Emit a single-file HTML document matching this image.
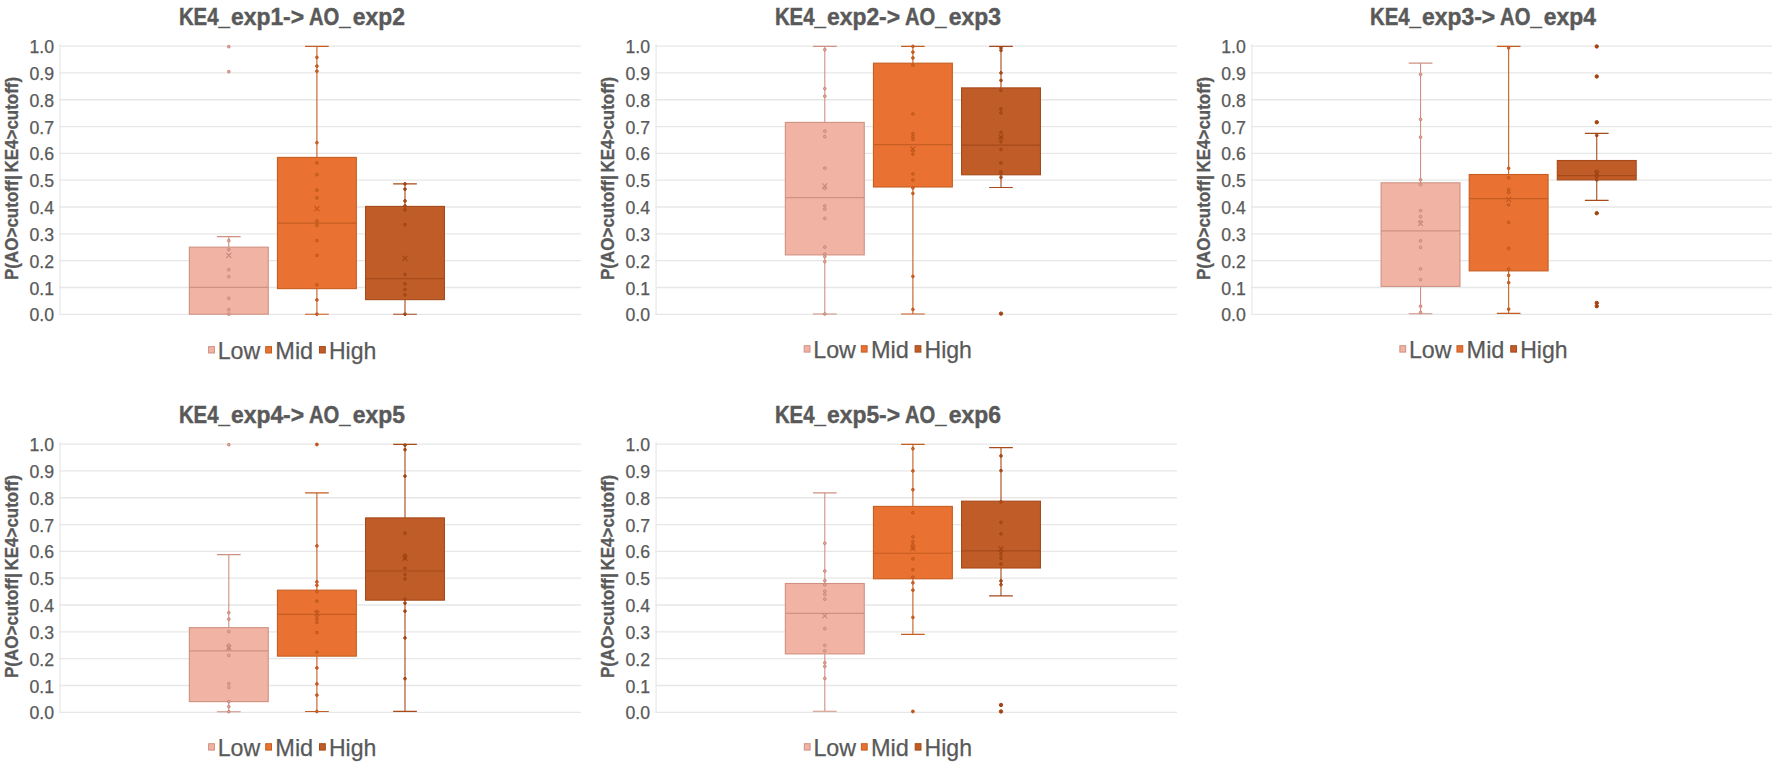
<!DOCTYPE html>
<html lang="en"><head><meta charset="utf-8"><title>KE4 to AO box plots</title>
<style>html,body{margin:0;padding:0;background:#fff}svg{display:block}text{font-family:"Liberation Sans",sans-serif;fill:#595959}.t{font-weight:bold;font-size:24.4px;stroke:#595959;stroke-width:.45px}.y{font-weight:bold;font-size:17.9px;stroke:#595959;stroke-width:.3px}.k{font-size:17.7px;text-anchor:end;stroke:#595959;stroke-width:.25px}.l{font-size:24px;stroke:#595959;stroke-width:.25px}.g{stroke:#E7E7E7;stroke-width:1.3;fill:none}.a{stroke:#EDEDED;stroke-width:1.5;fill:none}</style></head><body>
<svg width="1772" height="763" viewBox="0 0 1772 763">
<rect width="1772" height="763" fill="#fff"/>
<g transform="translate(0,0)">
<path class="a" d="M60.1 44.1V314.9"/>
<path class="g" d="M59.4 314.3H581M59.4 287.48H581M59.4 260.66H581M59.4 233.84H581M59.4 207.02H581M59.4 180.2H581M59.4 153.38H581M59.4 126.56H581M59.4 99.74H581M59.4 72.92H581M59.4 46.1H581"/>
<text class="k" x="54.1" y="321.4">0.0</text>
<text class="k" x="54.1" y="294.58">0.1</text>
<text class="k" x="54.1" y="267.76">0.2</text>
<text class="k" x="54.1" y="240.94">0.3</text>
<text class="k" x="54.1" y="214.12">0.4</text>
<text class="k" x="54.1" y="187.3">0.5</text>
<text class="k" x="54.1" y="160.48">0.6</text>
<text class="k" x="54.1" y="133.66">0.7</text>
<text class="k" x="54.1" y="106.84">0.8</text>
<text class="k" x="54.1" y="80.02">0.9</text>
<text class="k" x="54.1" y="53.2">1.0</text>
<text class="t" y="25.1"><tspan x="178.9" textLength="51" lengthAdjust="spacingAndGlyphs">KE4_</tspan><tspan x="231" textLength="73.1" lengthAdjust="spacingAndGlyphs">exp1-&gt;</tspan> <tspan x="309" textLength="41.6" lengthAdjust="spacingAndGlyphs">AO_</tspan><tspan x="352.8" textLength="52.1" lengthAdjust="spacingAndGlyphs">exp2</tspan></text>
<text class="y" transform="translate(18.4,280) rotate(-90)"><tspan x="0" textLength="99.6" lengthAdjust="spacingAndGlyphs">P(AO&gt;cutoff</tspan><tspan x="99.9">|</tspan><tspan x="107.6" textLength="95.5" lengthAdjust="spacingAndGlyphs">KE4&gt;cutoff)</tspan></text>
<g fill="#F1B4A4" stroke="#CF9182" stroke-width="1.1">
<path d="M228.8 247.15V236.65M216.95 236.65H240.65" fill="none"/>
<rect x="189.35" y="247.15" width="78.9" height="67.05"/>
<path d="M189.35 287.4H268.25" fill="none"/>
<g fill="#E2A797" stroke="#C6887A" stroke-width="1">
<circle cx="228.8" cy="46.65" r="1.35"/>
<circle cx="228.8" cy="71.65" r="1.35"/>
<circle cx="228.8" cy="240.65" r="1.35"/>
<circle cx="228.8" cy="249.65" r="1.35"/>
<circle cx="228.8" cy="269.65" r="1.35"/>
<circle cx="228.8" cy="276.65" r="1.35"/>
<circle cx="228.8" cy="298.4" r="1.35"/>
<circle cx="228.8" cy="309.65" r="1.35"/>
<circle cx="228.8" cy="314.2" r="1.35"/>
<path d="M226.3 252.9l5 5m0 -5l-5 5" fill="none" stroke-width="1.05"/>
</g>
</g>
<g fill="#E97132" stroke="#C55E22" stroke-width="1.1">
<path d="M316.9 157.4V46.4M305.05 46.4H328.75M316.9 288.65V314.2M305.05 314.2H328.75" fill="none"/>
<rect x="277.45" y="157.4" width="78.9" height="131.25"/>
<path d="M277.45 223.15H356.35" fill="none"/>
<g fill="#D2682D" stroke="#C0561C" stroke-width="1">
<circle cx="316.9" cy="57.4" r="1.35"/>
<circle cx="316.9" cy="66.15" r="1.35"/>
<circle cx="316.9" cy="71.15" r="1.35"/>
<circle cx="316.9" cy="142.65" r="1.35"/>
<circle cx="316.9" cy="162.9" r="1.35"/>
<circle cx="316.9" cy="174.65" r="1.35"/>
<circle cx="316.9" cy="190.15" r="1.35"/>
<circle cx="316.9" cy="197.9" r="1.35"/>
<circle cx="316.9" cy="221.15" r="1.35"/>
<circle cx="316.9" cy="225.4" r="1.35"/>
<circle cx="316.9" cy="240.65" r="1.35"/>
<circle cx="316.9" cy="255.4" r="1.35"/>
<circle cx="316.9" cy="284.9" r="1.35"/>
<circle cx="316.9" cy="299.9" r="1.35"/>
<circle cx="316.9" cy="314.2" r="1.35"/>
<path d="M314.4 206.15l5 5m0 -5l-5 5" fill="none" stroke-width="1.05"/>
</g>
</g>
<g fill="#C05C28" stroke="#A64A1A" stroke-width="1.1">
<path d="M405 206.4V183.9M393.15 183.9H416.85M405 299.65V314.2M393.15 314.2H416.85" fill="none"/>
<rect x="365.55" y="206.4" width="78.9" height="93.25"/>
<path d="M365.55 278.65H444.45" fill="none"/>
<g fill="#AE5121" stroke="#A04412" stroke-width="1">
<circle cx="405" cy="183.9" r="1.35"/>
<circle cx="405" cy="189.15" r="1.35"/>
<circle cx="405" cy="200.9" r="1.35"/>
<circle cx="405" cy="205.9" r="1.35"/>
<circle cx="405" cy="209.9" r="1.35"/>
<circle cx="405" cy="224.65" r="1.35"/>
<circle cx="405" cy="274.4" r="1.35"/>
<circle cx="405" cy="283.9" r="1.35"/>
<circle cx="405" cy="289.4" r="1.35"/>
<circle cx="405" cy="294.9" r="1.35"/>
<circle cx="405" cy="314.2" r="1.35"/>
<path d="M402.5 255.9l5 5m0 -5l-5 5" fill="none" stroke-width="1.05"/>
</g>
</g>
<rect x="208.6" y="346.6" width="5.8" height="6.4" fill="#F1B4A4" stroke="#CF9182" stroke-width="1"/>
<text class="l" x="217.7" y="358.8" textLength="42.6" lengthAdjust="spacingAndGlyphs">Low</text>
<rect x="265.7" y="346.6" width="5.8" height="6.4" fill="#E97132" stroke="#C55E22" stroke-width="1"/>
<text class="l" x="275.3" y="358.8" textLength="37.9" lengthAdjust="spacingAndGlyphs">Mid</text>
<rect x="319.5" y="346.6" width="5.8" height="6.4" fill="#C05C28" stroke="#A64A1A" stroke-width="1"/>
<text class="l" x="328.9" y="358.8" textLength="47.4" lengthAdjust="spacingAndGlyphs">High</text>
</g>
<g transform="translate(596,0)">
<path class="a" d="M60.1 44.1V314.9"/>
<path class="g" d="M59.4 314.3H581M59.4 287.48H581M59.4 260.66H581M59.4 233.84H581M59.4 207.02H581M59.4 180.2H581M59.4 153.38H581M59.4 126.56H581M59.4 99.74H581M59.4 72.92H581M59.4 46.1H581"/>
<text class="k" x="54.1" y="321.4">0.0</text>
<text class="k" x="54.1" y="294.58">0.1</text>
<text class="k" x="54.1" y="267.76">0.2</text>
<text class="k" x="54.1" y="240.94">0.3</text>
<text class="k" x="54.1" y="214.12">0.4</text>
<text class="k" x="54.1" y="187.3">0.5</text>
<text class="k" x="54.1" y="160.48">0.6</text>
<text class="k" x="54.1" y="133.66">0.7</text>
<text class="k" x="54.1" y="106.84">0.8</text>
<text class="k" x="54.1" y="80.02">0.9</text>
<text class="k" x="54.1" y="53.2">1.0</text>
<text class="t" y="25.1"><tspan x="178.9" textLength="51" lengthAdjust="spacingAndGlyphs">KE4_</tspan><tspan x="231" textLength="73.1" lengthAdjust="spacingAndGlyphs">exp2-&gt;</tspan> <tspan x="309" textLength="41.6" lengthAdjust="spacingAndGlyphs">AO_</tspan><tspan x="352.8" textLength="52.1" lengthAdjust="spacingAndGlyphs">exp3</tspan></text>
<text class="y" transform="translate(18.4,280) rotate(-90)"><tspan x="0" textLength="99.6" lengthAdjust="spacingAndGlyphs">P(AO&gt;cutoff</tspan><tspan x="99.9">|</tspan><tspan x="107.6" textLength="95.5" lengthAdjust="spacingAndGlyphs">KE4&gt;cutoff)</tspan></text>
<g fill="#F1B4A4" stroke="#CF9182" stroke-width="1.1">
<path d="M228.8 122.4V46.4M216.95 46.4H240.65M228.8 254.9V314M216.95 314H240.65" fill="none"/>
<rect x="189.35" y="122.4" width="78.9" height="132.5"/>
<path d="M189.35 197.65H268.25" fill="none"/>
<g fill="#E2A797" stroke="#C6887A" stroke-width="1">
<circle cx="228.8" cy="49.65" r="1.35"/>
<circle cx="228.8" cy="88.65" r="1.35"/>
<circle cx="228.8" cy="96.15" r="1.35"/>
<circle cx="228.8" cy="131.15" r="1.35"/>
<circle cx="228.8" cy="136.65" r="1.35"/>
<circle cx="228.8" cy="168.15" r="1.35"/>
<circle cx="228.8" cy="188.4" r="1.35"/>
<circle cx="228.8" cy="205.9" r="1.35"/>
<circle cx="228.8" cy="209.15" r="1.35"/>
<circle cx="228.8" cy="218.4" r="1.35"/>
<circle cx="228.8" cy="247.15" r="1.35"/>
<circle cx="228.8" cy="254.15" r="1.35"/>
<circle cx="228.8" cy="256.65" r="1.35"/>
<circle cx="228.8" cy="261.65" r="1.35"/>
<circle cx="228.8" cy="314" r="1.35"/>
<path d="M226.3 183.4l5 5m0 -5l-5 5" fill="none" stroke-width="1.05"/>
</g>
</g>
<g fill="#E97132" stroke="#C55E22" stroke-width="1.1">
<path d="M316.9 63.15V46.4M305.05 46.4H328.75M316.9 187V314M305.05 314H328.75" fill="none"/>
<rect x="277.45" y="63.15" width="78.9" height="123.85"/>
<path d="M277.45 144.65H356.35" fill="none"/>
<g fill="#D2682D" stroke="#C0561C" stroke-width="1">
<circle cx="316.9" cy="46.4" r="1.35"/>
<circle cx="316.9" cy="52.15" r="1.35"/>
<circle cx="316.9" cy="57.9" r="1.35"/>
<circle cx="316.9" cy="65.15" r="1.35"/>
<circle cx="316.9" cy="113.9" r="1.35"/>
<circle cx="316.9" cy="133.65" r="1.35"/>
<circle cx="316.9" cy="136.65" r="1.35"/>
<circle cx="316.9" cy="139.4" r="1.35"/>
<circle cx="316.9" cy="150.4" r="1.35"/>
<circle cx="316.9" cy="154.15" r="1.35"/>
<circle cx="316.9" cy="173.9" r="1.35"/>
<circle cx="316.9" cy="179.9" r="1.35"/>
<circle cx="316.9" cy="187.9" r="1.35"/>
<circle cx="316.9" cy="193.4" r="1.35"/>
<circle cx="316.9" cy="276.4" r="1.35"/>
<circle cx="316.9" cy="309.4" r="1.35"/>
<path d="M314.4 146.4l5 5m0 -5l-5 5" fill="none" stroke-width="1.05"/>
</g>
</g>
<g fill="#C05C28" stroke="#A64A1A" stroke-width="1.1">
<path d="M405 87.9V46.4M393.15 46.4H416.85M405 174.8V187.5M393.15 187.5H416.85" fill="none"/>
<rect x="365.55" y="87.9" width="78.9" height="86.9"/>
<path d="M365.55 145.15H444.45" fill="none"/>
<g fill="#AE5121" stroke="#A04412" stroke-width="1">
<circle cx="405" cy="47.9" r="1.35"/>
<circle cx="405" cy="50.4" r="1.35"/>
<circle cx="405" cy="72.9" r="1.35"/>
<circle cx="405" cy="80.4" r="1.35"/>
<circle cx="405" cy="90.4" r="1.35"/>
<circle cx="405" cy="108.9" r="1.35"/>
<circle cx="405" cy="112.9" r="1.35"/>
<circle cx="405" cy="132.4" r="1.35"/>
<circle cx="405" cy="137.4" r="1.35"/>
<circle cx="405" cy="141.65" r="1.35"/>
<circle cx="405" cy="149.5" r="1.35"/>
<circle cx="405" cy="163" r="1.35"/>
<circle cx="405" cy="171.65" r="1.35"/>
<circle cx="405" cy="173.65" r="1.35"/>
<circle cx="405" cy="177.4" r="1.35"/>
<circle cx="405" cy="313.6" r="1.7" fill="#A04412"/>
<path d="M402.5 134.65l5 5m0 -5l-5 5" fill="none" stroke-width="1.05"/>
</g>
</g>
<rect x="208.2" y="345.7" width="5.8" height="6.4" fill="#F1B4A4" stroke="#CF9182" stroke-width="1"/>
<text class="l" x="217.3" y="357.9" textLength="42.6" lengthAdjust="spacingAndGlyphs">Low</text>
<rect x="265.3" y="345.7" width="5.8" height="6.4" fill="#E97132" stroke="#C55E22" stroke-width="1"/>
<text class="l" x="274.9" y="357.9" textLength="37.9" lengthAdjust="spacingAndGlyphs">Mid</text>
<rect x="319.1" y="345.7" width="5.8" height="6.4" fill="#C05C28" stroke="#A64A1A" stroke-width="1"/>
<text class="l" x="328.5" y="357.9" textLength="47.4" lengthAdjust="spacingAndGlyphs">High</text>
</g>
<g transform="translate(1191.75,0)">
<path class="a" d="M60.1 44.1V314.9"/>
<path class="g" d="M59.4 314.3H581M59.4 287.48H581M59.4 260.66H581M59.4 233.84H581M59.4 207.02H581M59.4 180.2H581M59.4 153.38H581M59.4 126.56H581M59.4 99.74H581M59.4 72.92H581M59.4 46.1H581"/>
<text class="k" x="54.1" y="321.4">0.0</text>
<text class="k" x="54.1" y="294.58">0.1</text>
<text class="k" x="54.1" y="267.76">0.2</text>
<text class="k" x="54.1" y="240.94">0.3</text>
<text class="k" x="54.1" y="214.12">0.4</text>
<text class="k" x="54.1" y="187.3">0.5</text>
<text class="k" x="54.1" y="160.48">0.6</text>
<text class="k" x="54.1" y="133.66">0.7</text>
<text class="k" x="54.1" y="106.84">0.8</text>
<text class="k" x="54.1" y="80.02">0.9</text>
<text class="k" x="54.1" y="53.2">1.0</text>
<text class="t" y="25.1"><tspan x="178.2" textLength="51" lengthAdjust="spacingAndGlyphs">KE4_</tspan><tspan x="230.3" textLength="73.1" lengthAdjust="spacingAndGlyphs">exp3-&gt;</tspan> <tspan x="308.3" textLength="41.6" lengthAdjust="spacingAndGlyphs">AO_</tspan><tspan x="352.1" textLength="52.1" lengthAdjust="spacingAndGlyphs">exp4</tspan></text>
<text class="y" transform="translate(18.4,280) rotate(-90)"><tspan x="0" textLength="99.6" lengthAdjust="spacingAndGlyphs">P(AO&gt;cutoff</tspan><tspan x="99.9">|</tspan><tspan x="107.6" textLength="95.5" lengthAdjust="spacingAndGlyphs">KE4&gt;cutoff)</tspan></text>
<g fill="#F1B4A4" stroke="#CF9182" stroke-width="1.1">
<path d="M228.8 182.8V63.15M216.95 63.15H240.65M228.8 286.4V313.7M216.95 313.7H240.65" fill="none"/>
<rect x="189.35" y="182.8" width="78.9" height="103.6"/>
<path d="M189.35 230.9H268.25" fill="none"/>
<g fill="#E2A797" stroke="#C6887A" stroke-width="1">
<circle cx="228.8" cy="74.4" r="1.35"/>
<circle cx="228.8" cy="119.4" r="1.35"/>
<circle cx="228.8" cy="137.15" r="1.35"/>
<circle cx="228.8" cy="179.8" r="1.35"/>
<circle cx="228.8" cy="184.5" r="1.35"/>
<circle cx="228.8" cy="210.65" r="1.35"/>
<circle cx="228.8" cy="216.65" r="1.35"/>
<circle cx="228.8" cy="221.65" r="1.35"/>
<circle cx="228.8" cy="240.9" r="1.35"/>
<circle cx="228.8" cy="247.4" r="1.35"/>
<circle cx="228.8" cy="268.9" r="1.35"/>
<circle cx="228.8" cy="279.65" r="1.35"/>
<circle cx="228.8" cy="306.15" r="1.35"/>
<circle cx="228.8" cy="312.4" r="1.35"/>
<path d="M226.3 221.15l5 5m0 -5l-5 5" fill="none" stroke-width="1.05"/>
</g>
</g>
<g fill="#E97132" stroke="#C55E22" stroke-width="1.1">
<path d="M316.9 174.5V46.4M305.05 46.4H328.75M316.9 270.9V313.4M305.05 313.4H328.75" fill="none"/>
<rect x="277.45" y="174.5" width="78.9" height="96.4"/>
<path d="M277.45 198.65H356.35" fill="none"/>
<g fill="#D2682D" stroke="#C0561C" stroke-width="1">
<circle cx="316.9" cy="47.9" r="1.35"/>
<circle cx="316.9" cy="168.3" r="1.35"/>
<circle cx="316.9" cy="177.8" r="1.35"/>
<circle cx="316.9" cy="189.8" r="1.35"/>
<circle cx="316.9" cy="192.65" r="1.35"/>
<circle cx="316.9" cy="204.9" r="1.35"/>
<circle cx="316.9" cy="222.4" r="1.35"/>
<circle cx="316.9" cy="248.4" r="1.35"/>
<circle cx="316.9" cy="269.15" r="1.35"/>
<circle cx="316.9" cy="275.4" r="1.35"/>
<circle cx="316.9" cy="282.65" r="1.35"/>
<circle cx="316.9" cy="309.15" r="1.35"/>
<path d="M314.4 196.9l5 5m0 -5l-5 5" fill="none" stroke-width="1.05"/>
</g>
</g>
<g fill="#C05C28" stroke="#A64A1A" stroke-width="1.1">
<path d="M405 160.5V133.4M393.15 133.4H416.85M405 179.9V200.4M393.15 200.4H416.85" fill="none"/>
<rect x="365.55" y="160.5" width="78.9" height="19.4"/>
<path d="M365.55 175.65H444.45" fill="none"/>
<g fill="#AE5121" stroke="#A04412" stroke-width="1">
<circle cx="405" cy="46.45" r="1.7" fill="#A04412"/>
<circle cx="405" cy="76.45" r="1.7" fill="#A04412"/>
<circle cx="405" cy="122.2" r="1.7" fill="#A04412"/>
<circle cx="405" cy="135.4" r="1.35"/>
<circle cx="405" cy="171.4" r="1.35"/>
<circle cx="405" cy="173.9" r="1.35"/>
<circle cx="405" cy="177" r="1.35"/>
<circle cx="405" cy="179.9" r="1.35"/>
<circle cx="405" cy="213.2" r="1.7" fill="#A04412"/>
<circle cx="405" cy="302.95" r="1.7" fill="#A04412"/>
<circle cx="405" cy="306.2" r="1.7" fill="#A04412"/>
<path d="M402.5 171.15l5 5m0 -5l-5 5" fill="none" stroke-width="1.05"/>
</g>
</g>
<rect x="208.1" y="345.7" width="5.8" height="6.4" fill="#F1B4A4" stroke="#CF9182" stroke-width="1"/>
<text class="l" x="217.2" y="357.9" textLength="42.6" lengthAdjust="spacingAndGlyphs">Low</text>
<rect x="265.2" y="345.7" width="5.8" height="6.4" fill="#E97132" stroke="#C55E22" stroke-width="1"/>
<text class="l" x="274.8" y="357.9" textLength="37.9" lengthAdjust="spacingAndGlyphs">Mid</text>
<rect x="319" y="345.7" width="5.8" height="6.4" fill="#C05C28" stroke="#A64A1A" stroke-width="1"/>
<text class="l" x="328.4" y="357.9" textLength="47.4" lengthAdjust="spacingAndGlyphs">High</text>
</g>
<g transform="translate(0,398)">
<path class="a" d="M60.1 44.1V314.9"/>
<path class="g" d="M59.4 314.3H581M59.4 287.48H581M59.4 260.66H581M59.4 233.84H581M59.4 207.02H581M59.4 180.2H581M59.4 153.38H581M59.4 126.56H581M59.4 99.74H581M59.4 72.92H581M59.4 46.1H581"/>
<text class="k" x="54.1" y="321.4">0.0</text>
<text class="k" x="54.1" y="294.58">0.1</text>
<text class="k" x="54.1" y="267.76">0.2</text>
<text class="k" x="54.1" y="240.94">0.3</text>
<text class="k" x="54.1" y="214.12">0.4</text>
<text class="k" x="54.1" y="187.3">0.5</text>
<text class="k" x="54.1" y="160.48">0.6</text>
<text class="k" x="54.1" y="133.66">0.7</text>
<text class="k" x="54.1" y="106.84">0.8</text>
<text class="k" x="54.1" y="80.02">0.9</text>
<text class="k" x="54.1" y="53.2">1.0</text>
<text class="t" y="25.1"><tspan x="178.9" textLength="51" lengthAdjust="spacingAndGlyphs">KE4_</tspan><tspan x="231" textLength="73.1" lengthAdjust="spacingAndGlyphs">exp4-&gt;</tspan> <tspan x="309" textLength="41.6" lengthAdjust="spacingAndGlyphs">AO_</tspan><tspan x="352.8" textLength="52.1" lengthAdjust="spacingAndGlyphs">exp5</tspan></text>
<text class="y" transform="translate(18.4,280) rotate(-90)"><tspan x="0" textLength="99.6" lengthAdjust="spacingAndGlyphs">P(AO&gt;cutoff</tspan><tspan x="99.9">|</tspan><tspan x="107.6" textLength="95.5" lengthAdjust="spacingAndGlyphs">KE4&gt;cutoff)</tspan></text>
<g fill="#F1B4A4" stroke="#CF9182" stroke-width="1.1">
<path d="M228.8 229.65V156.65M216.95 156.65H240.65M228.8 303.65V313.7M216.95 313.7H240.65" fill="none"/>
<rect x="189.35" y="229.65" width="78.9" height="74"/>
<path d="M189.35 252.9H268.25" fill="none"/>
<g fill="#E2A797" stroke="#C6887A" stroke-width="1">
<circle cx="228.8" cy="46.65" r="1.35"/>
<circle cx="228.8" cy="214.65" r="1.35"/>
<circle cx="228.8" cy="221.15" r="1.35"/>
<circle cx="228.8" cy="233.65" r="1.35"/>
<circle cx="228.8" cy="247.15" r="1.35"/>
<circle cx="228.8" cy="250.4" r="1.35"/>
<circle cx="228.8" cy="257.4" r="1.35"/>
<circle cx="228.8" cy="285.65" r="1.35"/>
<circle cx="228.8" cy="289.4" r="1.35"/>
<circle cx="228.8" cy="303.65" r="1.35"/>
<circle cx="228.8" cy="308.65" r="1.35"/>
<circle cx="228.8" cy="313.7" r="1.35"/>
<path d="M226.3 247.4l5 5m0 -5l-5 5" fill="none" stroke-width="1.05"/>
</g>
</g>
<g fill="#E97132" stroke="#C55E22" stroke-width="1.1">
<path d="M316.9 192.15V94.9M305.05 94.9H328.75M316.9 258.15V313.5M305.05 313.5H328.75" fill="none"/>
<rect x="277.45" y="192.15" width="78.9" height="66"/>
<path d="M277.45 216.4H356.35" fill="none"/>
<g fill="#D2682D" stroke="#C0561C" stroke-width="1">
<circle cx="316.9" cy="46.45" r="1.45" fill="#C0561C"/>
<circle cx="316.9" cy="147.9" r="1.35"/>
<circle cx="316.9" cy="183.9" r="1.35"/>
<circle cx="316.9" cy="187.3" r="1.35"/>
<circle cx="316.9" cy="193.65" r="1.35"/>
<circle cx="316.9" cy="203.15" r="1.35"/>
<circle cx="316.9" cy="213.4" r="1.35"/>
<circle cx="316.9" cy="217.4" r="1.35"/>
<circle cx="316.9" cy="220.9" r="1.35"/>
<circle cx="316.9" cy="224.4" r="1.35"/>
<circle cx="316.9" cy="234.65" r="1.35"/>
<circle cx="316.9" cy="254.15" r="1.35"/>
<circle cx="316.9" cy="269.9" r="1.35"/>
<circle cx="316.9" cy="285.9" r="1.35"/>
<circle cx="316.9" cy="297.15" r="1.35"/>
<circle cx="316.9" cy="313.5" r="1.35"/>
<path d="M314.4 212.9l5 5m0 -5l-5 5" fill="none" stroke-width="1.05"/>
</g>
</g>
<g fill="#C05C28" stroke="#A64A1A" stroke-width="1.1">
<path d="M405 119.9V46.4M393.15 46.4H416.85M405 202.15V313.4M393.15 313.4H416.85" fill="none"/>
<rect x="365.55" y="119.9" width="78.9" height="82.25"/>
<path d="M365.55 173H444.45" fill="none"/>
<g fill="#AE5121" stroke="#A04412" stroke-width="1">
<circle cx="405" cy="47.15" r="1.35"/>
<circle cx="405" cy="51.65" r="1.35"/>
<circle cx="405" cy="78.15" r="1.35"/>
<circle cx="405" cy="135.15" r="1.35"/>
<circle cx="405" cy="157.15" r="1.35"/>
<circle cx="405" cy="160.4" r="1.35"/>
<circle cx="405" cy="170.3" r="1.35"/>
<circle cx="405" cy="176.5" r="1.35"/>
<circle cx="405" cy="180.9" r="1.35"/>
<circle cx="405" cy="201.15" r="1.35"/>
<circle cx="405" cy="205.15" r="1.35"/>
<circle cx="405" cy="213.15" r="1.35"/>
<circle cx="405" cy="239.9" r="1.35"/>
<circle cx="405" cy="280.65" r="1.35"/>
<path d="M402.5 157.9l5 5m0 -5l-5 5" fill="none" stroke-width="1.05"/>
</g>
</g>
<rect x="208.6" y="345.7" width="5.8" height="6.4" fill="#F1B4A4" stroke="#CF9182" stroke-width="1"/>
<text class="l" x="217.7" y="357.9" textLength="42.6" lengthAdjust="spacingAndGlyphs">Low</text>
<rect x="265.7" y="345.7" width="5.8" height="6.4" fill="#E97132" stroke="#C55E22" stroke-width="1"/>
<text class="l" x="275.3" y="357.9" textLength="37.9" lengthAdjust="spacingAndGlyphs">Mid</text>
<rect x="319.5" y="345.7" width="5.8" height="6.4" fill="#C05C28" stroke="#A64A1A" stroke-width="1"/>
<text class="l" x="328.9" y="357.9" textLength="47.4" lengthAdjust="spacingAndGlyphs">High</text>
</g>
<g transform="translate(596,398)">
<path class="a" d="M60.1 44.1V314.9"/>
<path class="g" d="M59.4 314.3H581M59.4 287.48H581M59.4 260.66H581M59.4 233.84H581M59.4 207.02H581M59.4 180.2H581M59.4 153.38H581M59.4 126.56H581M59.4 99.74H581M59.4 72.92H581M59.4 46.1H581"/>
<text class="k" x="54.1" y="321.4">0.0</text>
<text class="k" x="54.1" y="294.58">0.1</text>
<text class="k" x="54.1" y="267.76">0.2</text>
<text class="k" x="54.1" y="240.94">0.3</text>
<text class="k" x="54.1" y="214.12">0.4</text>
<text class="k" x="54.1" y="187.3">0.5</text>
<text class="k" x="54.1" y="160.48">0.6</text>
<text class="k" x="54.1" y="133.66">0.7</text>
<text class="k" x="54.1" y="106.84">0.8</text>
<text class="k" x="54.1" y="80.02">0.9</text>
<text class="k" x="54.1" y="53.2">1.0</text>
<text class="t" y="25.1"><tspan x="178.9" textLength="51" lengthAdjust="spacingAndGlyphs">KE4_</tspan><tspan x="231" textLength="73.1" lengthAdjust="spacingAndGlyphs">exp5-&gt;</tspan> <tspan x="309" textLength="41.6" lengthAdjust="spacingAndGlyphs">AO_</tspan><tspan x="352.8" textLength="52.1" lengthAdjust="spacingAndGlyphs">exp6</tspan></text>
<text class="y" transform="translate(18.4,280) rotate(-90)"><tspan x="0" textLength="99.6" lengthAdjust="spacingAndGlyphs">P(AO&gt;cutoff</tspan><tspan x="99.9">|</tspan><tspan x="107.6" textLength="95.5" lengthAdjust="spacingAndGlyphs">KE4&gt;cutoff)</tspan></text>
<g fill="#F1B4A4" stroke="#CF9182" stroke-width="1.1">
<path d="M228.8 185.5V94.9M216.95 94.9H240.65M228.8 255.9V313.3M216.95 313.3H240.65" fill="none"/>
<rect x="189.35" y="185.5" width="78.9" height="70.4"/>
<path d="M189.35 215.4H268.25" fill="none"/>
<g fill="#E2A797" stroke="#C6887A" stroke-width="1">
<circle cx="228.8" cy="145.3" r="1.35"/>
<circle cx="228.8" cy="173" r="1.35"/>
<circle cx="228.8" cy="182.65" r="1.35"/>
<circle cx="228.8" cy="186.9" r="1.35"/>
<circle cx="228.8" cy="193.15" r="1.35"/>
<circle cx="228.8" cy="196.4" r="1.35"/>
<circle cx="228.8" cy="201.15" r="1.35"/>
<circle cx="228.8" cy="230.65" r="1.35"/>
<circle cx="228.8" cy="247.4" r="1.35"/>
<circle cx="228.8" cy="252.9" r="1.35"/>
<circle cx="228.8" cy="264.65" r="1.35"/>
<circle cx="228.8" cy="268.4" r="1.35"/>
<circle cx="228.8" cy="280.4" r="1.35"/>
<path d="M226.3 215.4l5 5m0 -5l-5 5" fill="none" stroke-width="1.05"/>
</g>
</g>
<g fill="#E97132" stroke="#C55E22" stroke-width="1.1">
<path d="M316.9 108.4V46.4M305.05 46.4H328.75M316.9 180.8V236.4M305.05 236.4H328.75" fill="none"/>
<rect x="277.45" y="108.4" width="78.9" height="72.4"/>
<path d="M277.45 155.3H356.35" fill="none"/>
<g fill="#D2682D" stroke="#C0561C" stroke-width="1">
<circle cx="316.9" cy="50.65" r="1.35"/>
<circle cx="316.9" cy="72.9" r="1.35"/>
<circle cx="316.9" cy="91.65" r="1.35"/>
<circle cx="316.9" cy="114.65" r="1.35"/>
<circle cx="316.9" cy="138.9" r="1.35"/>
<circle cx="316.9" cy="143.65" r="1.35"/>
<circle cx="316.9" cy="146.9" r="1.35"/>
<circle cx="316.9" cy="150.4" r="1.35"/>
<circle cx="316.9" cy="160.8" r="1.35"/>
<circle cx="316.9" cy="171.65" r="1.35"/>
<circle cx="316.9" cy="179.15" r="1.35"/>
<circle cx="316.9" cy="184.8" r="1.35"/>
<circle cx="316.9" cy="192.15" r="1.35"/>
<circle cx="316.9" cy="219.4" r="1.35"/>
<circle cx="316.9" cy="313.45" r="1.45" fill="#C0561C"/>
<path d="M314.4 147.9l5 5m0 -5l-5 5" fill="none" stroke-width="1.05"/>
</g>
</g>
<g fill="#C05C28" stroke="#A64A1A" stroke-width="1.1">
<path d="M405 103.15V49.65M393.15 49.65H416.85M405 170V197.9M393.15 197.9H416.85" fill="none"/>
<rect x="365.55" y="103.15" width="78.9" height="66.85"/>
<path d="M365.55 152.9H444.45" fill="none"/>
<g fill="#AE5121" stroke="#A04412" stroke-width="1">
<circle cx="405" cy="57.9" r="1.35"/>
<circle cx="405" cy="72.65" r="1.35"/>
<circle cx="405" cy="103.9" r="1.35"/>
<circle cx="405" cy="124.4" r="1.35"/>
<circle cx="405" cy="135.9" r="1.35"/>
<circle cx="405" cy="153.4" r="1.35"/>
<circle cx="405" cy="156.65" r="1.35"/>
<circle cx="405" cy="160.4" r="1.35"/>
<circle cx="405" cy="166" r="1.35"/>
<circle cx="405" cy="182.9" r="1.35"/>
<circle cx="405" cy="186.65" r="1.35"/>
<circle cx="405" cy="306.95" r="1.7" fill="#A04412"/>
<circle cx="405" cy="313.45" r="1.7" fill="#A04412"/>
<path d="M402.5 148.3l5 5m0 -5l-5 5" fill="none" stroke-width="1.05"/>
</g>
</g>
<rect x="208.3" y="345.7" width="5.8" height="6.4" fill="#F1B4A4" stroke="#CF9182" stroke-width="1"/>
<text class="l" x="217.4" y="357.9" textLength="42.6" lengthAdjust="spacingAndGlyphs">Low</text>
<rect x="265.4" y="345.7" width="5.8" height="6.4" fill="#E97132" stroke="#C55E22" stroke-width="1"/>
<text class="l" x="275" y="357.9" textLength="37.9" lengthAdjust="spacingAndGlyphs">Mid</text>
<rect x="319.2" y="345.7" width="5.8" height="6.4" fill="#C05C28" stroke="#A64A1A" stroke-width="1"/>
<text class="l" x="328.6" y="357.9" textLength="47.4" lengthAdjust="spacingAndGlyphs">High</text>
</g>
</svg></body></html>
